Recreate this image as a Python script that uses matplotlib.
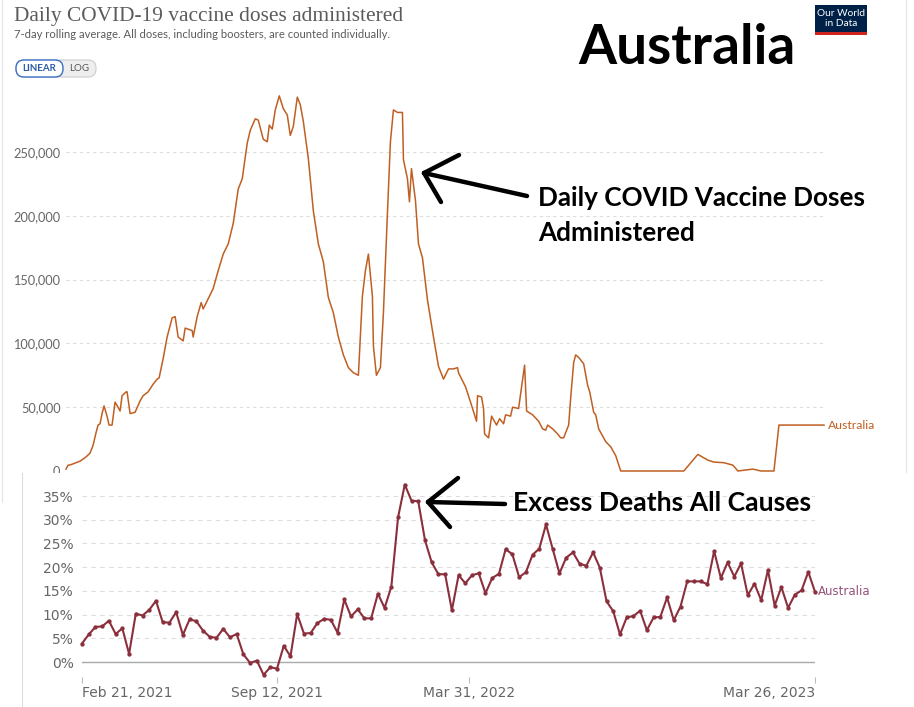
import numpy as np
import pandas as pd
import matplotlib
matplotlib.use("Agg")
import matplotlib.pyplot as plt
from matplotlib.lines import Line2D
from matplotlib.patches import Rectangle, FancyBboxPatch
from matplotlib.transforms import IdentityTransform

W, H = 914, 707

# top chart: daily vaccine doses (7-day avg), day offsets from 2021-02-22
top_start = "2021-02-22"
top_end = "2023-03-20"
top_day = [0, 2, 5, 10, 14, 20, 24, 27, 30, 32, 34, 36, 38, 41, 43, 46, 49, 52, 54, 56,
           60, 61, 64, 69, 74, 77, 82, 87, 91, 93, 97, 101, 106, 109, 112, 117, 119, 126, 127, 131,
           135, 137, 142, 147, 152, 157, 162, 167, 172, 176, 181, 184, 189, 192, 197, 201, 203, 206, 209, 213,
           217, 221, 224, 227, 231, 234, 237, 242, 247, 252, 257, 262, 267, 272, 277, 282, 287, 292, 296, 299,
           302, 306, 307, 310, 314, 317, 321, 324, 327, 331, 336, 337, 341, 343, 345, 349, 352, 356, 361, 367,
           372, 377, 382, 387, 391, 392, 399, 404, 410, 411, 415, 417, 418, 422, 425, 430, 433, 437, 439, 444,
           446, 452, 456, 458, 460, 466, 472, 476, 479, 481, 486, 491, 494, 497, 500, 502, 504, 507, 509, 512,
           517, 521, 523, 527, 529, 532, 539, 544, 549, 554, 617, 631, 641, 647, 657, 666, 671, 686, 694, 707,
           712, 757]
top_doses = [1500, 4500, 5000, 6500, 7700, 11000, 14000, 20000, 30000, 36000, 37000, 45000, 51000, 43000, 36000, 36000, 54000, 50000, 47000, 59000,
             62000, 62000, 45000, 46000, 55000, 59000, 62000, 68000, 72000, 73000, 88000, 105000, 120000, 121000, 105000, 102000, 112000, 110000, 105000, 121000,
             132000, 127000, 135000, 143000, 157000, 170000, 178000, 194000, 221000, 229000, 257000, 267000, 276000, 275000, 260000, 258000, 271000, 268000, 283000, 294000,
             284000, 279000, 263000, 270000, 293000, 287000, 274000, 245000, 204000, 178000, 164000, 136000, 124000, 105000, 91000, 81000, 77000, 75000, 137000, 157000,
             170000, 137000, 98000, 75000, 81000, 124000, 202000, 258000, 283000, 281000, 281000, 244000, 229000, 211000, 237000, 212000, 178000, 167000, 134000, 105000,
             82000, 72000, 80000, 80000, 81000, 77000, 66000, 54000, 39000, 59000, 58000, 49000, 29000, 26000, 43000, 36000, 41000, 37000, 44000, 43000,
             50000, 49000, 72000, 83000, 47000, 44000, 39000, 33000, 32000, 36000, 33000, 29000, 26000, 26000, 32000, 36000, 57000, 85000, 91000, 89000,
             84000, 67000, 62000, 46000, 44000, 33000, 23000, 19000, 12000, 0, 0, 13000, 8500, 7000, 6500, 4600, 0, 1500, 0, 0,
             36000, 36000]
top_ticks = [0, 50000, 100000, 150000, 200000, 250000]

# bottom chart: weekly excess deaths, all causes (%)
excess_start = "2021-02-21"
excess_pct = [3.9, 5.8, 7.4, 7.5, 8.7, 5.9, 7.1, 1.7, 10.2, 9.8,
              11.0, 12.9, 8.4, 8.3, 10.5, 5.7, 9.0, 8.6, 6.6, 5.3,
              5.1, 7.0, 5.2, 5.9, 1.6, -0.2, 0.3, -2.7, -1.1, -1.4,
              3.4, 1.2, 10.1, 6.0, 6.1, 8.2, 9.1, 8.9, 6.2, 13.2,
              9.6, 11.1, 9.2, 9.2, 14.4, 11.4, 15.9, 30.5, 37.4, 34.0,
              33.9, 25.7, 21.0, 18.5, 18.5, 10.9, 18.3, 16.6, 18.3, 18.7,
              14.5, 17.7, 18.6, 23.8, 22.7, 17.9, 18.9, 22.6, 23.9, 29.0,
              23.8, 18.7, 22.0, 23.1, 20.7, 20.3, 23.1, 19.9, 12.8, 10.7,
              5.8, 9.4, 9.7, 10.8, 6.7, 9.4, 9.5, 13.6, 8.8, 11.7,
              17.0, 17.0, 17.0, 16.4, 23.4, 17.7, 21.0, 18.0, 20.8, 14.1,
              16.5, 13.0, 19.4, 11.9, 15.8, 11.4, 14.2, 15.1, 19.0, 14.8]
excess_ticks = [0, 5, 10, 15, 20, 25, 30, 35]
date_ticks = ["2021-02-21", "2021-09-12", "2022-03-31", "2023-03-26"]
date_labels = ["Feb 21, 2021", "Sep 12, 2021", "Mar 31, 2022", "Mar 26, 2023"]

orange = "#c05f22"
maroon = "#8b2f3c"
grey_txt = "#666666"


def fx(x):
    return x / W


def fy(y):
    return 1 - y / H


def px_axes(fig, left, top, right, bottom, **kw):
    return fig.add_axes([fx(left), fy(bottom), (right - left) / W, (bottom - top) / H], **kw)


fig = plt.figure(figsize=(W / 100, H / 100), dpi=100)
fig.patch.set_facecolor("white")

# ---------- top (OWID) chart ----------
y0_px, y250_px = 471, 152
per_unit = (y0_px - y250_px) / 250000
ytop = 300000
ax = px_axes(fig, 66, y0_px - ytop * per_unit, 823, y0_px)
dates_top = pd.Timestamp(top_start) + pd.to_timedelta(top_day, unit="D")
ax.plot(dates_top, top_doses, color=orange, lw=1.1, clip_on=False)
ax.set_xlim(pd.Timestamp(top_start), pd.Timestamp(top_end))
ax.set_ylim(0, ytop)
ax.set_yticks(top_ticks)
ax.set_yticklabels([f"{v:,}" for v in top_ticks], fontfamily="Lato", fontsize=9.2, color=grey_txt)
ax.tick_params(axis="y", length=0, pad=4)
ax.xaxis.set_visible(False)
for s in ax.spines.values():
    s.set_visible(False)
ax.grid(axis="y", color="#dddddd", ls=(0, (3, 3)), lw=0.8)
ax.set_axisbelow(True)
ax.patch.set_alpha(0)
ax.text(1.006, 36000, "Australia", transform=ax.get_yaxis_transform(), color=orange,
        fontfamily="Lato", fontsize=8.8, va="center", ha="left")

# OWID header texts
fig.text(fx(14), fy(16), "Daily COVID-19 vaccine doses administered", fontfamily="Liberation Serif",
         fontsize=15.4, color="#5b5b5b", va="center", ha="left")
fig.text(fx(14), fy(34), "7-day rolling average. All doses, including boosters, are counted individually.",
         fontfamily="Lato", fontsize=8.1, color="#5b5b5b", va="center", ha="left")

ident = IdentityTransform()
fig.patches.append(FancyBboxPatch((16, H - 77), 80, 17, boxstyle="round,pad=0,rounding_size=8",
                                  fc="#eeeeee", ec="#cccccc", lw=0.8, transform=ident))
fig.patches.append(FancyBboxPatch((16, H - 77), 47, 17, boxstyle="round,pad=0,rounding_size=8",
                                  fc="white", ec="#3a6fc4", lw=1.0, transform=ident))
fig.text(fx(39.5), fy(68.5), "LINEAR", fontfamily="Lato", fontsize=7, color="#2b5aa6",
         fontweight="bold", ha="center", va="center")
fig.text(fx(79), fy(68.5), "LOG", fontfamily="Lato", fontsize=7, color="#555555",
         ha="center", va="center")

fig.patches.append(Rectangle((815, H - 32), 52, 27, fc="#002147", ec="none", transform=ident))
fig.patches.append(Rectangle((815, H - 35), 52, 3, fc="#ce261e", ec="none", transform=ident))
fig.text(fx(841), fy(13), "Our World", fontfamily="Lato", fontsize=7.3, color="white", ha="center", va="center")
fig.text(fx(841), fy(24), "in Data", fontfamily="Lato", fontsize=7.3, color="white", ha="center", va="center")

# frame lines of the OWID screenshot
fig.add_artist(Line2D([fx(2), fx(2)], [fy(0), fy(502)], color="#e4e4e4", lw=0.8))
fig.add_artist(Line2D([fx(906), fx(906)], [fy(0), fy(472)], color="#e4e4e4", lw=0.8))

# ---------- cover for the pasted excess deaths chart ----------
cover = px_axes(fig, 22, 473, W + 2, H + 2)
cover.set_facecolor("white")
cover.set_xticks([])
cover.set_yticks([])
for k, s in cover.spines.items():
    s.set_visible(k == "left")
cover.spines["left"].set_color("#dddddd")

# ---------- bottom chart ----------
per_pct = (662 - 496) / 35
yb_lo, yb_hi = -3.2, 38.0
bx = px_axes(fig, 82, 662 - yb_hi * per_pct, 815, 662 - yb_lo * per_pct)
dates_ex = pd.date_range(excess_start, periods=len(excess_pct), freq="7D")
bx.plot(dates_ex, excess_pct, color=maroon, lw=1.5, marker="o", ms=2.1, clip_on=False)
bx.set_xlim(pd.Timestamp(excess_start), dates_ex[-1])
bx.set_ylim(yb_lo, yb_hi)
bx.set_yticks(excess_ticks)
bx.set_yticklabels([f"{v}%" for v in excess_ticks], fontsize=10, color=grey_txt)
bx.tick_params(axis="y", length=0, pad=6)
bx.set_xticks(pd.to_datetime(date_ticks))
bx.set_xticklabels(date_labels, fontsize=10, color=grey_txt)
bx.tick_params(axis="x", length=4, color="#bbbbbb", pad=2)
labs = bx.get_xticklabels()
labs[0].set_ha("left")
labs[-1].set_ha("right")
for s in bx.spines.values():
    s.set_visible(False)
bx.grid(axis="y", color="#dddddd", ls=(0, (4, 4)), lw=0.8)
bx.axhline(0, color="#aaaaaa", lw=1.0, zorder=1)
bx.set_axisbelow(True)
bx.patch.set_alpha(0)
bx.text(1.004, excess_pct[-1], "Australia", transform=bx.get_yaxis_transform(), color="#94527a",
        fontsize=8.5, va="center", ha="left")

# ---------- annotations ----------
fig.text(fx(578), fy(48), "Australia", fontfamily="Lato", fontweight="bold", fontsize=39.5,
         color="black", ha="left", va="center")
fig.text(fx(538), fy(198), "Daily COVID Vaccine Doses", fontfamily="Lato", fontweight="bold",
         fontsize=18.8, color="black", ha="left", va="center")
fig.text(fx(538), fy(233), "Administered", fontfamily="Lato", fontweight="bold",
         fontsize=18.8, color="black", ha="left", va="center")
fig.text(fx(513), fy(503), "Excess Deaths All Causes", fontfamily="Lato", fontweight="bold",
         fontsize=19.1, color="black", ha="left", va="center")

arrows = [
    [(527, 196), (424, 173)], [(424, 173), (459, 155)], [(424, 173), (441, 202)],
    [(505, 504), (428, 502)], [(428, 502), (458, 478)], [(428, 502), (450, 527)],
]
for (xa, ya), (xb, yb) in arrows:
    fig.add_artist(Line2D([fx(xa), fx(xb)], [fy(ya), fy(yb)], color="black", lw=3.2,
                          solid_capstyle="round"))

fig.savefig("out.png", dpi=100)
